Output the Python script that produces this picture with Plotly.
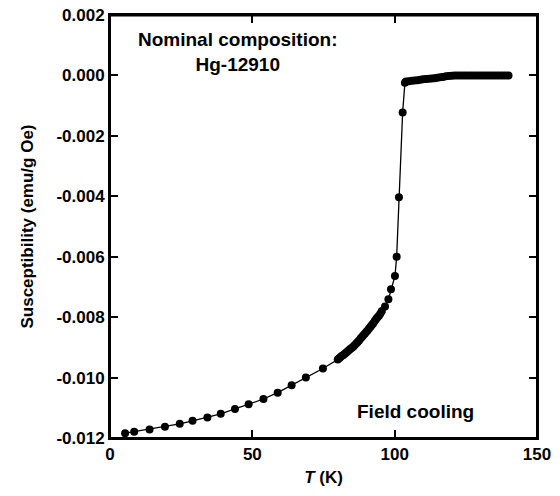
import plotly.graph_objects as go

# Temperature (K) and susceptibility (emu/g Oe)
T = [5.3, 8.5, 13.9, 19.3, 24.5, 29.0, 34.2, 38.9, 43.9, 48.7, 53.9, 58.9,
     63.8, 68.8, 74.8,
     80.0, 80.5, 81.0, 81.5, 82.0, 82.5, 83.0, 83.5, 84.0, 84.5, 85.0, 85.5,
     86.0, 86.5, 87.0, 87.5, 88.0, 88.5, 89.0, 89.5, 90.0, 90.5, 91.0, 91.5,
     92.0, 92.5, 93.0, 93.5, 94.0, 94.5, 95.0, 95.5,
     96.6, 97.8, 98.7, 100.1, 100.7, 101.5, 102.8, 103.6,
     104.0, 105.0, 106.0, 107.0, 108.0, 109.0, 110.0, 111.0, 112.0, 113.0,
     114.0, 115.0, 116.0, 117.0, 118.0, 119.0, 120.0, 121.0, 122.0, 123.0,
     124.0, 125.0, 126.0, 127.0, 128.0, 129.0, 130.0, 131.0, 132.0, 133.0,
     134.0, 135.0, 136.0, 137.0, 138.0, 139.0, 140.0]
chi = [-0.01184, -0.01179, -0.01172, -0.01163, -0.01153, -0.01143, -0.01132,
       -0.01120, -0.01104, -0.01088, -0.01071, -0.01050,
       -0.01025, -0.01000, -0.00970,
       -0.00940, -0.00936, -0.00932, -0.00928, -0.00925, -0.00921, -0.00917,
       -0.00913, -0.00909, -0.00905, -0.00901, -0.00897,
       -0.00892, -0.00887, -0.00882, -0.00877, -0.00871, -0.00866, -0.00860,
       -0.00855, -0.00849, -0.00844, -0.00838, -0.00832,
       -0.00826, -0.00820, -0.00813, -0.00806, -0.00800, -0.00795, -0.00788,
       -0.00780,
       -0.00765, -0.00741, -0.00708, -0.00664, -0.00600, -0.00403, -0.00123,
       -0.00024,
       -0.00020, -0.00019, -0.00018, -0.00017, -0.00016, -0.00014, -0.00013,
       -0.00012, -0.00011, -0.00010,
       -0.00009, -0.00008, -0.00006, -0.00005, -0.00003, -0.00002, -0.00001,
       0.00000, 0.00000, 0.00000,
       0.00000, 0.00000, 0.00000, 0.00000, 0.00000, 0.00000, 0.00000, 0.00000,
       0.00000, 0.00000,
       0.00000, 0.00000, 0.00000, 0.00000, 0.00000, 0.00000, 0.00000]

x_ticks = [0, 50, 100, 150]
y_ticks = [0.002, 0.000, -0.002, -0.004, -0.006, -0.008, -0.010, -0.012]
y_tick_labels = ["0.002", "0.000", "-0.002", "-0.004", "-0.006", "-0.008",
                 "-0.010", "-0.012"]

FONT = "Liberation Sans"

fig = go.Figure()
fig.add_trace(go.Scatter(
    x=T, y=chi, mode="lines+markers",
    line=dict(color="black", width=1.3),
    marker=dict(color="black", size=8),
    showlegend=False,
))

fig.add_annotation(x=45, y=0.00076, xref="x", yref="y",
                   text="<b>Nominal composition:<br>Hg-12910</b>",
                   showarrow=False, align="center",
                   font=dict(family=FONT, size=19, color="black"))
fig.add_annotation(x=107.3, y=-0.01111, xref="x", yref="y",
                   text="<b>Field cooling</b>", showarrow=False,
                   font=dict(family=FONT, size=19, color="black"))

axis_common = dict(
    showgrid=False, zeroline=False, showline=True, linecolor="black",
    linewidth=2, mirror="ticks", ticks="inside", ticklen=8, tickwidth=1.5,
    tickcolor="black", automargin=False, ticklabeloverflow="allow",
    tickfont=dict(family=FONT, size=17, color="black", weight="bold"),
)

fig.update_xaxes(range=[0, 150], tickvals=x_ticks,
                 ticktext=[str(v) for v in x_ticks],
                 title=dict(text="<b><i>T</i> (K)</b>",
                            font=dict(family=FONT, size=17, color="black"),
                            standoff=8),
                 **axis_common)
fig.update_yaxes(range=[-0.012, 0.002], tickvals=y_ticks,
                 ticktext=y_tick_labels,
                 title=dict(text="<b>Susceptibility (emu/g Oe)</b>",
                            font=dict(family=FONT, size=17, color="black"),
                            standoff=18),
                 **axis_common)

# explicit top axis so the frame is closed with inward ticks
fig.update_layout(xaxis2=dict(
    overlaying="x", side="top", anchor="y", range=[0, 150],
    tickvals=x_ticks, showticklabels=False, showgrid=False, zeroline=False,
    showline=True, linecolor="black", linewidth=2, ticks="inside",
    ticklen=8, tickwidth=1.5, tickcolor="black", automargin=False,
))
# full frame rectangle drawn above everything
fig.add_shape(type="rect", xref="paper", yref="paper",
              x0=0, x1=1, y0=0, y1=0.999, layer="above",
              line=dict(color="black", width=2), fillcolor="rgba(0,0,0,0)")

fig.update_layout(
    width=560, height=496,
    margin=dict(l=110, r=23, t=15, b=58),
    plot_bgcolor="white", paper_bgcolor="white",
)

# remove the default page margin so the figure fills the window exactly
fig.write_html("out.html", config={"displayModeBar": False},
               post_script="document.body.style.margin='0';")
